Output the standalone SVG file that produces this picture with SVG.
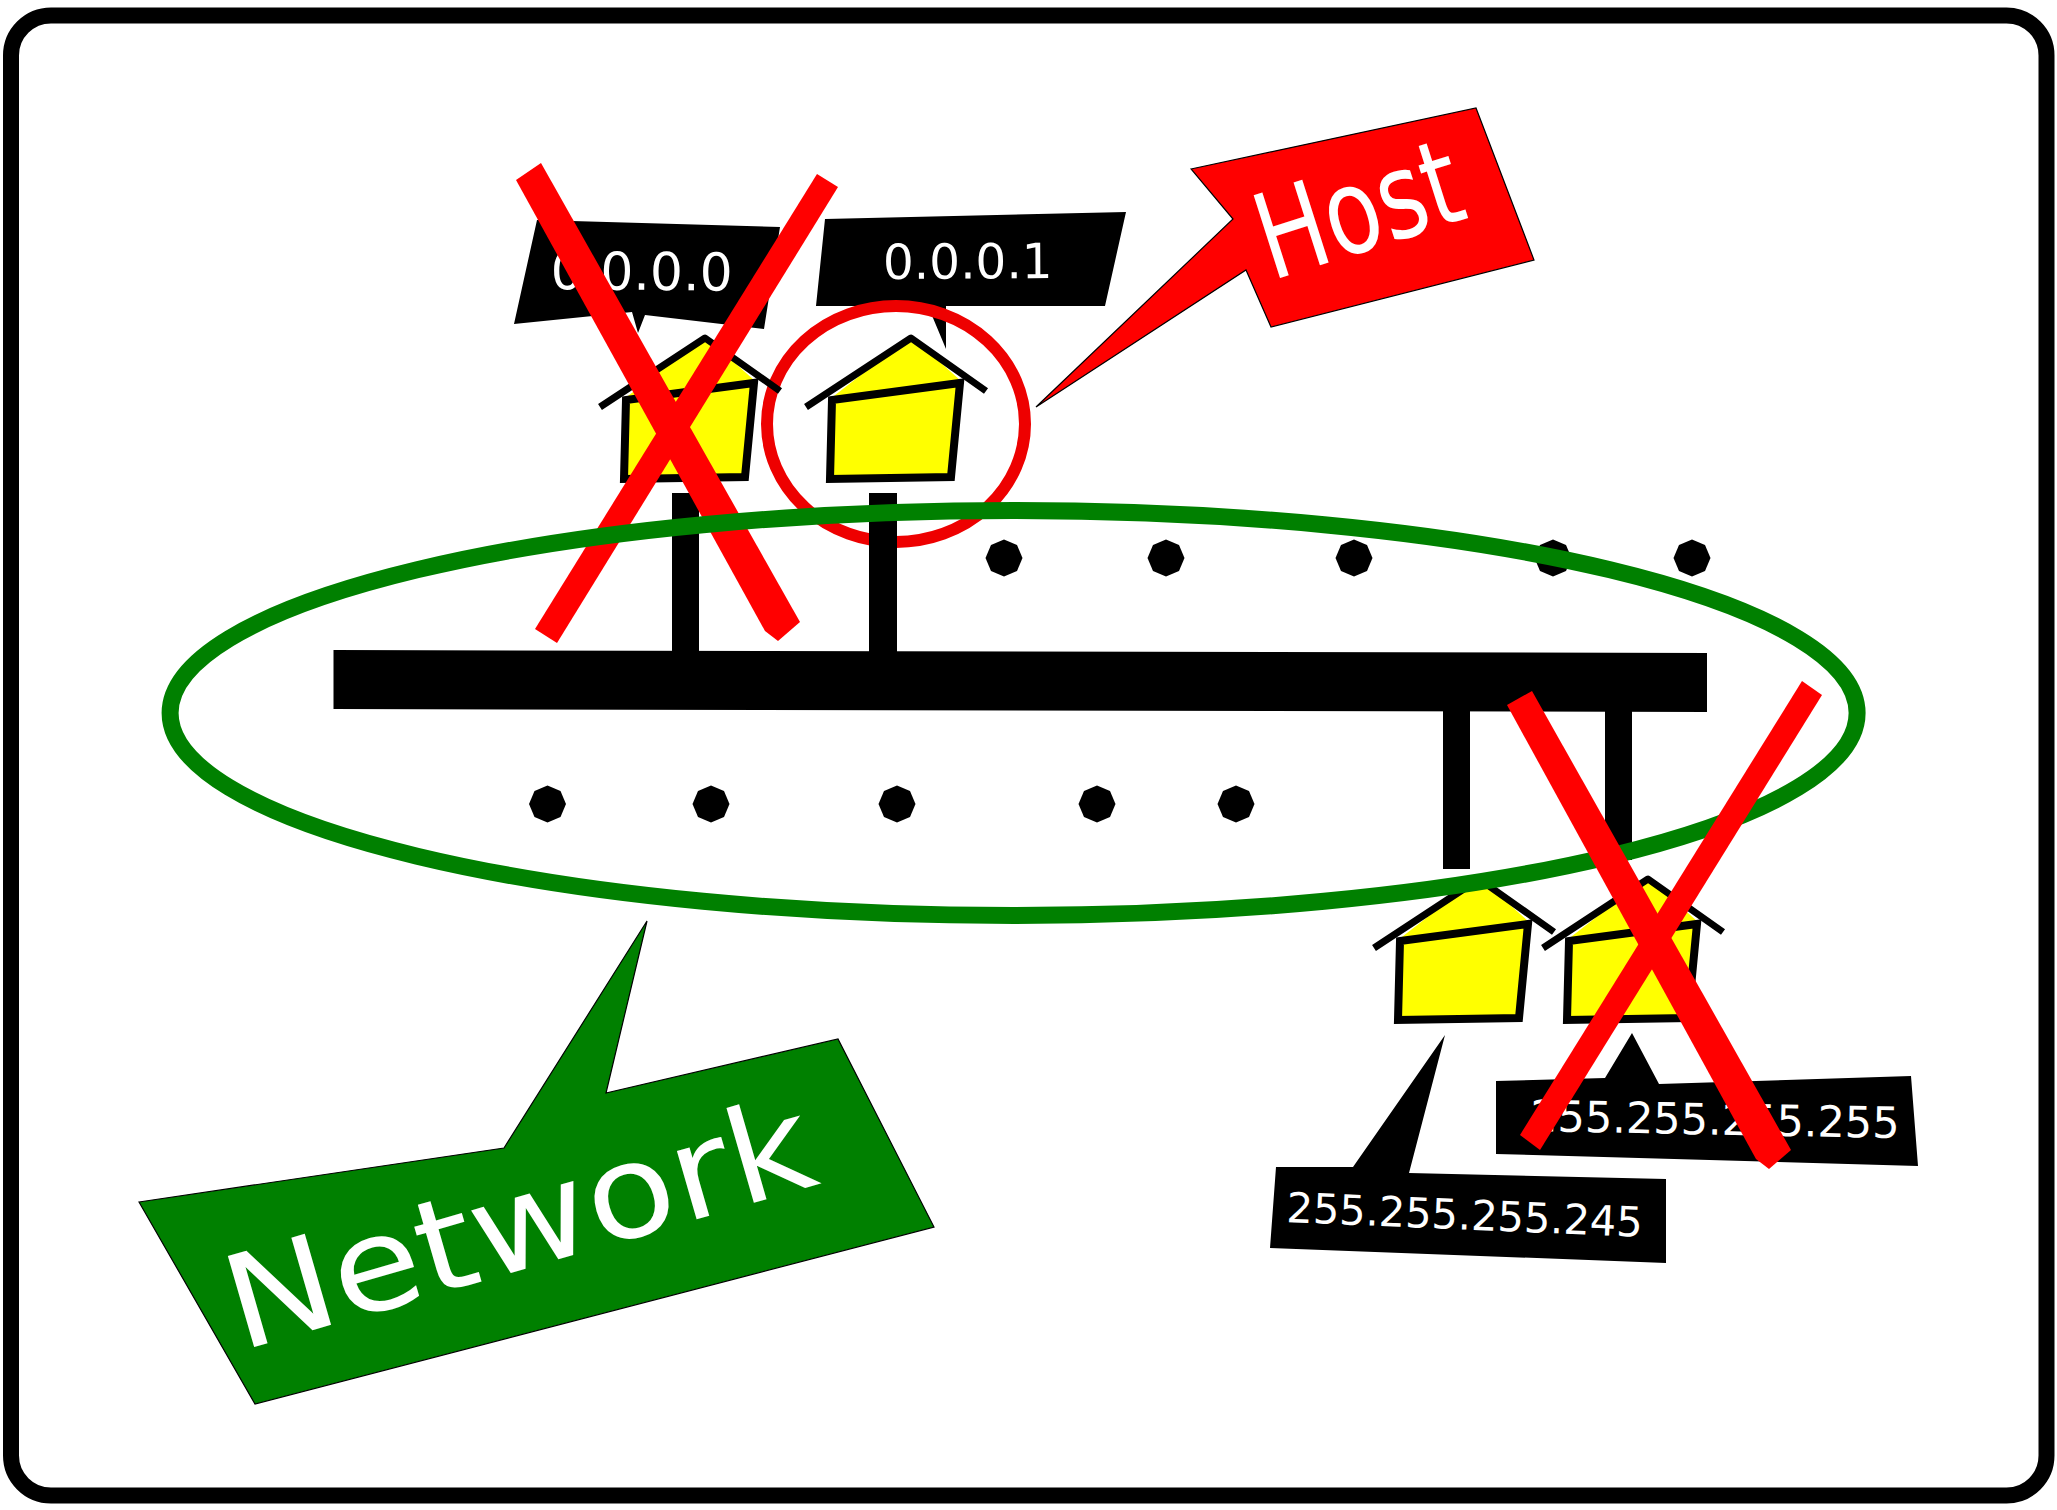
<svg xmlns="http://www.w3.org/2000/svg" width="2057" height="1510" viewBox="0 0 2057 1510">
<style>
.lbl{fill:#000}
.t{fill:#fff;font-family:"DejaVu Sans",sans-serif;text-rendering:geometricPrecision}
.x{fill:#f00}
.call{stroke:#000;stroke-width:1.200}
.stick{fill:#000}
.roof{fill:none;stroke:#000;stroke-width:7;stroke-linejoin:round}
.body{fill:#ff0;stroke:#000;stroke-width:8}
.rooffill{fill:#ff0}
</style>
<defs>
<polygon id="dot" points="0,-18.500 13,-13 18.500,0 13,13 0,18.500 -13,13 -18.500,0 -13,-13" fill="#000"/>
<g id="house">
<polygon class="rooffill" points="830,399 911,336 961,381"/>
<polyline class="roof" points="806,407 911,338 986,391"/>
<polygon class="body" points="830,479 832,400 960,383 951,477"/>
</g>
</defs>
<rect id="background" width="2057" height="1510" fill="#fff"/>
<rect id="frame" x="11" y="15.500" width="2035.500" height="1480" rx="40" fill="#fff" stroke="#000" stroke-width="16"/>
<g id="label-0001">
<polygon class="lbl" points="825,219 1126,212 1105,306 946,306 946,349 928,306 816,306"/>
<text class="t" font-size="48.500" x="883" y="279" transform="rotate(-0.3 883 279)">0.0.0.1</text>
</g>
<g id="host-circle"><ellipse cx="896" cy="424" rx="129" ry="118" fill="none" stroke="#e00" stroke-width="12"/></g>
<g id="house-2"><use href="#house"/></g>
<g id="label-0000">
<polygon class="lbl" points="537,220 780,227 764,329 645,315 638,333 632,312 514,324"/>
<text class="t" font-size="52" x="550.600" y="289" transform="rotate(0.5 550.600 289)">0.0.0.0</text>
</g>
<g id="house-1"><use href="#house" transform="translate(-206,0)"/></g>
<g id="connectors">
<rect class="stick" x="672" y="493" width="27" height="160"/>
<rect class="stick" x="869" y="493" width="28" height="160"/>
<polygon class="stick" points="333.500,650 1707,653 1707,712 333.500,709"/>
<rect class="stick" x="1443" y="705" width="27" height="164"/>
<rect class="stick" x="1605" y="705" width="27" height="155"/>
</g>
<g id="house-3"><use href="#house" transform="translate(568,541)"/></g>
<g id="house-4"><use href="#house" transform="translate(737,541)"/></g>
<g id="cross-1">
<polygon class="x" points="516,180 541,163 800,622 778,641 765,631"/>
<polygon class="x" points="817,174 838,187 557,643 535,629"/>
</g>
<g id="dots">
<use href="#dot" x="1004" y="558"/><use href="#dot" x="1166" y="558"/><use href="#dot" x="1354" y="558"/><use href="#dot" x="1553" y="558"/><use href="#dot" x="1692" y="558"/>
<use href="#dot" x="547.500" y="804"/><use href="#dot" x="711" y="804"/><use href="#dot" x="897" y="804"/><use href="#dot" x="1097" y="804"/><use href="#dot" x="1236" y="804"/>
</g>
<g id="network-ellipse"><ellipse cx="1013.600" cy="713" rx="843.500" ry="202.500" fill="none" stroke="#008000" stroke-width="17"/></g>
<g id="host-callout">
<polygon class="call" fill="#f00" points="1191,169 1476,108 1534,260 1271,327 1246,270 1036,407 1233,219"/>
<text class="t" font-size="119" transform="translate(1271.400,280.700) rotate(-17.700) scale(0.77,1)">Host</text>
</g>
<g id="network-callout">
<polygon class="call" fill="#008000" points="139,1202 504,1148 647,921 606,1093 838,1039 934,1227 255,1404"/>
<text class="t" font-size="130" transform="translate(240.500,1351) rotate(-16.100) scale(1.115,1)">Network</text>
</g>
<g id="label-245">
<polygon class="lbl" points="1276,1167 1353,1167 1445,1035 1409,1173 1666,1179 1666,1263 1270,1248"/>
<text class="t" font-size="41.500" x="1286" y="1222" transform="rotate(2.400 1286 1222)">255.255.255.245</text>
</g>
<g id="label-255">
<polygon class="lbl" points="1496,1081 1605,1078 1632,1033 1659,1084 1911,1076 1918,1166 1496,1154"/>
<text class="t" font-size="43" x="1530" y="1131" transform="rotate(1.100 1530 1131)">255.255.255.255</text>
</g>
<g id="cross-2">
<polygon class="x" points="1507,705 1532,691 1791,1150 1769,1169 1756,1159"/>
<polygon class="x" points="1802,681 1822,695 1540,1150 1520,1135"/>
</g>
</svg>
